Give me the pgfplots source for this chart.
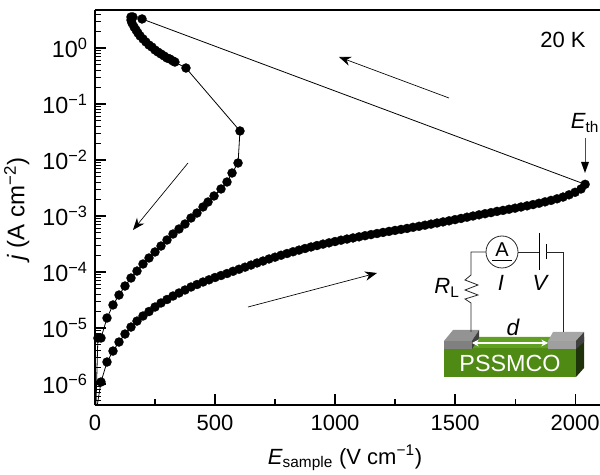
\documentclass[border=0pt]{standalone}
\usepackage{fontspec}
\setmainfont{Liberation Sans}
\usepackage{pgfplots}
\usepackage{pgfplotstable}
\pgfplotsset{compat=1.18}
\usetikzlibrary{arrows.meta}
\pgfplotstableread{
E j
25 1.086e-6
50 2.47e-6
75 3.88e-6
100 5.62e-6
125 7.81e-6
150 1.04e-5
175 1.33e-5
200 1.64e-5
225 1.97e-5
250 2.37e-5
275 2.80e-5
300 3.23e-5
325 3.73e-5
350 4.22e-5
375 4.77e-5
400 5.40e-5
425 5.98e-5
450 6.63e-5
475 7.26e-5
500 7.98e-5
525 8.66e-5
550 9.40e-5
575 1.03e-4
600 1.12e-4
625 1.22e-4
650 1.33e-4
675 1.45e-4
700 1.57e-4
725 1.71e-4
750 1.84e-4
775 1.99e-4
800 2.14e-4
825 2.30e-4
850 2.46e-4
875 2.63e-4
900 2.80e-4
925 2.97e-4
950 3.15e-4
975 3.32e-4
1000 3.50e-4
1025 3.70e-4
1050 3.88e-4
1075 4.06e-4
1100 4.25e-4
1125 4.45e-4
1150 4.66e-4
1175 4.87e-4
1200 5.09e-4
1225 5.31e-4
1250 5.53e-4
1275 5.76e-4
1300 6.00e-4
1325 6.29e-4
1350 6.55e-4
1375 6.85e-4
1400 7.17e-4
1425 7.50e-4
1450 7.85e-4
1475 8.21e-4
1500 8.62e-4
1525 9.05e-4
1550 9.52e-4
1575 1.00e-3
1600 1.05e-3
1625 1.10e-3
1650 1.15e-3
1675 1.21e-3
1700 1.26e-3
1725 1.32e-3
1750 1.38e-3
1775 1.45e-3
1800 1.52e-3
1825 1.60e-3
1850 1.69e-3
1875 1.79e-3
1900 1.90e-3
1925 2.03e-3
1950 2.18e-3
1975 2.39e-3
2000 2.65e-3
2025 3.04e-3
2042 3.68e-3
196 3.30
158 3.58
150 3.58
150 3.16
154 2.80
163 2.37
171 2.10
179 1.85
188 1.64
200 1.45
212 1.28
225 1.13
237 1.04
250 0.921
262 0.848
275 0.781
288 0.720
300 0.663
312 0.636
325 0.586
333 0.562
379 0.439
604 3.30e-2
596 8.84e-3
571 5.86e-3
550 4.05e-3
525 3.04e-3
496 2.28e-3
471 1.78e-3
450 1.45e-3
425 1.13e-3
400 9.21e-4
375 7.20e-4
350 5.86e-4
325 4.77e-4
300 3.73e-4
275 2.91e-4
250 2.28e-4
225 1.78e-4
200 1.39e-4
175 1.04e-4
150 7.81e-5
125 5.62e-5
100 3.88e-5
75 2.58e-5
50 1.51e-5
25 6.63e-6
12 6.6e-6
}\sweep
\begin{document}
\begin{tikzpicture}
\path[use as bounding box] (-71.25pt,-52.5pt) rectangle (378.75pt,303.75pt);
\begin{axis}[
  at={(0,0)}, anchor=south west,
  scale only axis, width=378.75pt, height=296.25pt,
  xmin=0, xmax=2104, ymin=4.22e-7, ymax=4.77,
  ymode=log,
  axis lines=left,
  axis line style={-, line width=1.1pt, black},
  tick style={line width=0.8pt, black},
  tick align=inside,
  major tick length=8pt, minor tick length=4.5pt,
  xtick={0,500,1000,1500,2000},
  minor xtick={250,750,1250,1750},
  ytick={1e-6,1e-5,1e-4,1e-3,1e-2,1e-1,1},
  yticklabels={10\textsuperscript{−6},10\textsuperscript{−5},10\textsuperscript{−4},10\textsuperscript{−3},10\textsuperscript{−2},10\textsuperscript{−1},10\textsuperscript{0}},
  minor ytick={5e-7,6e-7,7e-7,8e-7,9e-7,
    2e-6,3e-6,4e-6,5e-6,6e-6,7e-6,8e-6,9e-6,
    2e-5,3e-5,4e-5,5e-5,6e-5,7e-5,8e-5,9e-5,
    2e-4,3e-4,4e-4,5e-4,6e-4,7e-4,8e-4,9e-4,
    2e-3,3e-3,4e-3,5e-3,6e-3,7e-3,8e-3,9e-3,
    2e-2,3e-2,4e-2,5e-2,6e-2,7e-2,8e-2,9e-2,
    2e-1,3e-1,4e-1,5e-1,6e-1,7e-1,8e-1,9e-1,
    2,3,4},
  x tick label style={/pgf/number format/assume math mode=true, /pgf/number format/1000 sep={}},
  tick label style={font=\fontsize{16.5}{20}\selectfont},
  xticklabel style={yshift=-4pt},
  yticklabel style={xshift=-2pt, font=\fontsize{17.5}{20}\selectfont},
  label style={font=\fontsize{16.5}{20}\selectfont},
  xlabel={\textit{E}\textsubscript{sample} (V cm\textsuperscript{−1})},
  ylabel={\textit{j} (A cm\textsuperscript{−2})},
  xlabel style={at={(axis description cs:0.495,-0.15)}, anchor=base},
  ylabel style={at={(axis description cs:-0.155,0.495)}, anchor=center, font=\fontsize{18}{20}\selectfont},
]
\addplot[black, line width=0.6pt] coordinates {(4,3e-7) (25,1.086e-6)};
\addplot[black, line width=0.6pt] coordinates {(12,6.6e-6) (3,3e-7)};
\addplot[black, line width=0.6pt, mark=*, mark size=3.4pt, mark options={fill=black, draw=black, line width=0.2pt}] table[x=E,y=j] {\sweep};
\end{axis}
\begin{scope}[x=0.75pt,y=-0.75pt,shift={(-71.25pt,303.75pt)}]
\draw[line width=1.1pt] (95,10) -- (600,10);
\def\fs{\fontsize{16.5}{20}\selectfont}
\node[font=\fs] at (563,40) {20 K};
\node[font=\fs] at (585,123) {\textit{E}\textsubscript{th}};
\draw[line width=0.7pt, black!70] (585,138) -- (585,163);
\fill (581,162) -- (589,162) -- (585,173) -- cycle;
% arrows
\draw[line width=0.5pt, -{Stealth[length=9pt,width=7pt]}] (449,98) -- (339,57);
\draw[line width=0.5pt, -{Stealth[length=9pt,width=7pt]}] (188,163) -- (133,230);
\draw[line width=0.5pt, -{Stealth[length=9pt,width=7pt]}] (248,307) -- (377,273);
% device
\fill[fill={rgb,255:red,78;green,138;blue,20}] (444,348) rectangle (576,377);
\fill[fill={rgb,255:red,96;green,160;blue,32}] (444,348) -- (453,337) -- (584,337) -- (576,348) -- cycle;
\fill[fill={rgb,255:red,30;green,51;blue,10}] (576,348) -- (584,337) -- (584,368) -- (576,377) -- cycle;
\fill[gray!85] (444,341) -- (453,330) -- (479,330) -- (472,341) -- cycle;
\fill[gray] (444,341) rectangle (472,349);
\fill[black!75] (472,341) -- (479,330) -- (479,338) -- (472,349) -- cycle;
\fill[gray!70] (548,341) -- (553,332) -- (584,332) -- (576,341) -- cycle;
\fill[gray!75] (548,341) rectangle (576,349);
\fill[black!75] (576,341) -- (584,332) -- (584,342) -- (576,349) -- cycle;
\draw[white, line width=1pt, {Stealth[length=5pt,width=5pt]}-{Stealth[length=5pt,width=5pt]}] (472,343) -- (548,343);
\node[white, font=\fontsize{17.5}{22}\selectfont] at (510,363) {PSSMCO};
\node[font=\fontsize{17}{20}\selectfont\itshape] at (513,327) {d};
% circuit
\draw[line width=0.6pt, black!85] (471,332) -- (471,303) -- (465,299) -- (478,295) -- (465,290) -- (478,285) -- (465,280) -- (471,275) -- (471,252) -- (486,252);
\draw[line width=0.6pt, black!85] (502,252) circle (16);
\draw[line width=0.6pt, black!85] (518,252) -- (539,252);
\draw[line width=0.7pt] (539,233) -- (539,270);
\draw[line width=0.7pt] (546,244) -- (546,259);
\draw[line width=0.6pt, black!85] (546,252) -- (563,252) -- (563,332);
\node[font=\fontsize{15}{18}\selectfont] at (502,250) {A};
\draw[line width=0.6pt] (492,260) -- (512,260);
\node[font=\fs] at (447,288) {\textit{R}\textsubscript{L}};
\node[font=\fs\itshape] at (501,283) {I};
\node[font=\fs\itshape] at (540,283) {V};
\end{scope}
\end{tikzpicture}
\end{document}
